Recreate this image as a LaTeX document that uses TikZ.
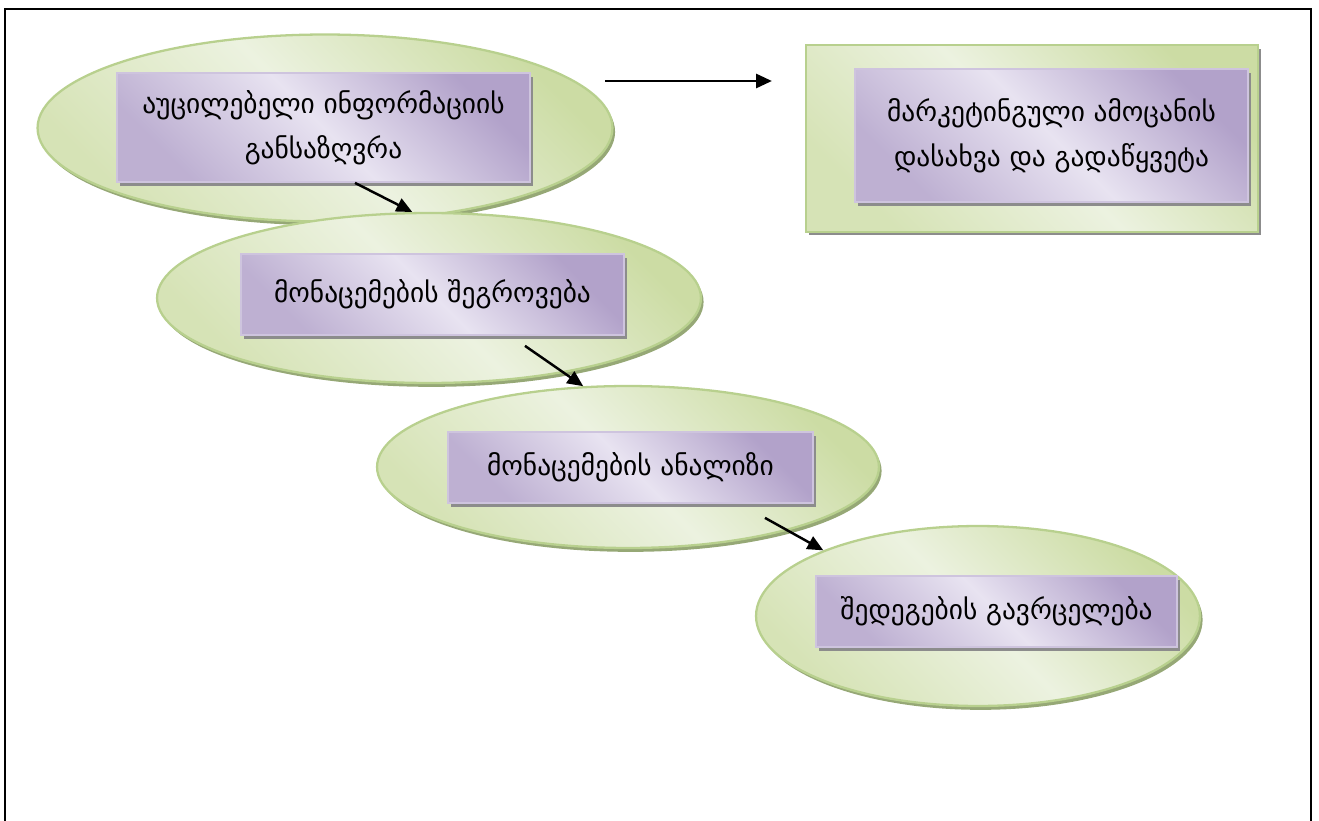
\documentclass[tikz,border=0pt]{standalone}
\usepackage{fontspec}
\setmainfont{DejaVu Sans}
\usetikzlibrary{shapes.geometric,shadows,arrows.meta}

\definecolor{leafgreen}{RGB}{236,242,224}
\definecolor{olivegreen}{RGB}{204,220,164}
\definecolor{oliveedge}{RGB}{184,208,142}
\definecolor{oliveshadow}{RGB}{150,168,118}
\definecolor{lilaclight}{RGB}{232,227,241}
\definecolor{lilacdark}{RGB}{178,162,202}
\definecolor{lilacedge}{RGB}{206,196,222}

\tikzset{
  oval/.style={ellipse, draw=oliveedge, line width=1.3pt, inner sep=0pt,
    left color=olivegreen, right color=olivegreen!80, middle color=leafgreen,
    shading angle=-45,
    drop shadow={shadow xshift=1.5pt, shadow yshift=-2.2pt, fill=oliveshadow, opacity=1}},
  stagebox/.style={rectangle, draw=lilacedge, line width=1pt, align=center,
    left color=lilacdark, right color=lilacdark!85, middle color=lilaclight,
    shading angle=-45, font=\fontsize{15.6}{25.5}\selectfont,
    drop shadow={shadow xshift=1.6pt, shadow yshift=-2pt, fill=black!45, opacity=1}},
  greenframe/.style={rectangle, draw=oliveedge, line width=1.3pt,
    left color=olivegreen, right color=olivegreen!80, middle color=leafgreen,
    shading angle=-45,
    drop shadow={shadow xshift=1.6pt, shadow yshift=-2pt, fill=black!45, opacity=1}},
  arr/.style={-{Triangle[length=9pt,width=8pt]}, line width=1.4pt}
}

\begin{document}
\begin{tikzpicture}[x=0.02cm, y=-0.02cm]
  \useasboundingbox (0,0) rectangle (1319,821);

  % page frame
  \draw[line width=1.6pt] (5,840) -- (5,9) -- (1311,9) -- (1311,840);

  % stages
  \node[oval, minimum width=11.5cm, minimum height=3.74cm] (need) at (325,128) {};
  \node[stagebox, minimum width=8.26cm, minimum height=2.18cm] (needBox) at (323.5,127.5)
    {აუცილებელი ინფორმაციის\\განსაზღვრა};

  \node[oval, minimum width=10.88cm, minimum height=3.4cm] (collect) at (429,298) {};
  \node[stagebox, minimum width=7.66cm, minimum height=1.62cm] (collectBox) at (432.5,294.5)
    {მონაცემების შეგროვება};

  \node[oval, minimum width=10.04cm, minimum height=3.24cm] (analyse) at (628,467) {};
  \node[stagebox, minimum width=7.3cm, minimum height=1.42cm] (analyseBox) at (630.5,467.5)
    {მონაცემების ანალიზი};

  \node[oval, minimum width=8.88cm, minimum height=3.6cm] (spread) at (978,616) {};
  \node[stagebox, minimum width=7.22cm, minimum height=1.42cm] (spreadBox) at (996.5,611.5)
    {შედეგების გავრცელება};

  % task
  \node[greenframe, minimum width=9.04cm, minimum height=3.74cm] (taskFrame) at (1032,138.5) {};
  \node[stagebox, minimum width=7.86cm, minimum height=2.66cm] (taskBox) at (1051.5,135.5)
    {მარკეტინგული ამოცანის\\დასახვა და გადაწყვეტა};

  % arrows
  \coordinate (taskStart) at (605,81);
  \draw[arr] (taskStart) -- ([xshift=-0.66cm]taskStart -| taskFrame.west);
  \draw[arr] ([xshift=0.63cm]needBox.south) -- (collect.101);
  \draw[arr] ([xshift=1.85cm,yshift=-0.2cm]collectBox.south) -- (analyse.119);
  \draw[arr] ([xshift=2.69cm,yshift=-0.28cm]analyseBox.south) -- (spread.157);
\end{tikzpicture}
\end{document}
